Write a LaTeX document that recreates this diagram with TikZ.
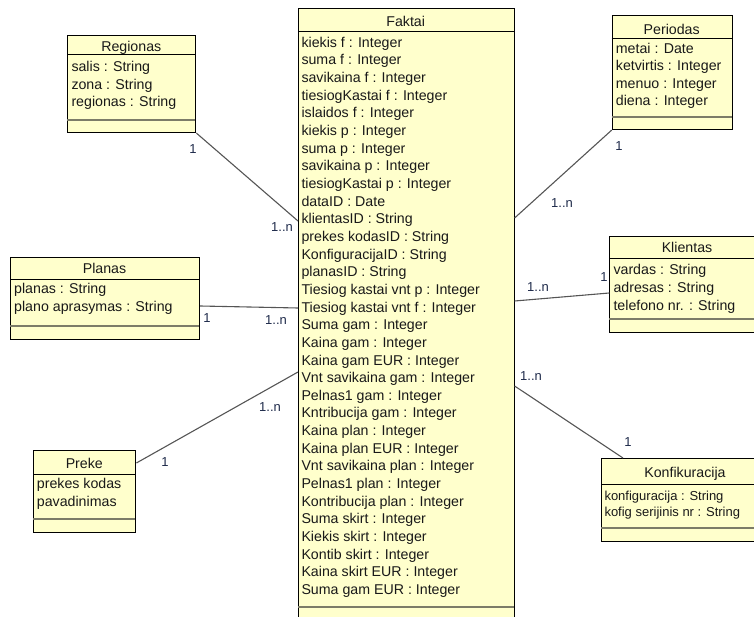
\documentclass[tikz,border=0pt]{standalone}
\usepackage{fontspec}
\setmainfont{Liberation Sans}
\definecolor{umlfill}{HTML}{FFFFCC}
\definecolor{sepcol}{HTML}{7C7C68}
\definecolor{linkcol}{HTML}{555555}
\definecolor{labcol}{HTML}{1E2A4A}
\tikzset{
  classbox/.style={draw=black, line width=1.1pt, fill=umlfill, rectangle, inner sep=0pt, anchor=north west},
  attr/.style={anchor=base west, inner sep=0pt, font=\fontsize{14.2}{16}\selectfont, text=black!90},
  attrsmall/.style={anchor=base west, inner sep=0pt, font=\fontsize{13}{15}\selectfont, text=black!90},
  ctitle/.style={anchor=base, inner sep=0pt, font=\fontsize{14.2}{16}\selectfont, text=black!90},
  hdr/.style={line width=1pt, draw=black},
  opsep/.style={line width=1.6pt, draw=sepcol},
  link/.style={draw=linkcol, line width=1.1pt},
  mult/.style={inner sep=0pt, font=\fontsize{13}{15}\selectfont, text=labcol},
}
\begin{document}
\begin{tikzpicture}[x=1pt,y=-1pt]
\useasboundingbox (0,0) rectangle (754,617);

% ---------- Faktai ----------
\node[classbox, minimum width=215.5pt, minimum height=614pt] (fak) at (298,8) {};
\draw[hdr] (298,32) -- (513.5,32);
\draw[opsep] (298,607) -- (513.5,607);
\node[ctitle] (faktitle) at (405.7,26.5) {Faktai};
\foreach \t [count=\i from 0] in {
  kiekis f : Integer, suma f : Integer, savikaina f : Integer,
  tiesiogKastai f : Integer, islaidos f : Integer, kiekis p : Integer,
  suma p : Integer, savikaina p : Integer, tiesiogKastai p : Integer,
  dataID : Date, klientasID : String, prekes kodasID : String,
  KonfiguracijaID : String, planasID : String,
  Tiesiog kastai vnt p : Integer, Tiesiog kastai vnt f : Integer,
  Suma gam : Integer, Kaina gam : Integer, Kaina gam EUR : Integer,
  Vnt savikaina gam : Integer, Pelnas1 gam : Integer,
  Kntribucija gam : Integer, Kaina plan : Integer,
  Kaina plan EUR : Integer, Vnt savikaina plan : Integer,
  Pelnas1 plan : Integer, Kontribucija plan : Integer,
  Suma skirt : Integer, Kiekis skirt : Integer, Kontib skirt : Integer,
  Kaina skirt EUR : Integer, Suma gam EUR : Integer}
  \node[attr] (fa\i) at (301.3,{47.3+17.65*\i}) {\t};

% ---------- Regionas ----------
\node[classbox, minimum width=128pt, minimum height=97pt] (reg) at (67.3,35) {};
\draw[hdr] (67.3,55) -- (195.3,55);
\draw[opsep] (67.3,120) -- (195.3,120);
\node[ctitle] (regtitle) at (131.3,51.5) {Regionas};
\foreach \t [count=\i from 0] in {salis : String, zona : String, regionas : String}
  \node[attr] (ra\i) at (71.3,{72+17.3*\i}) {\t};

% ---------- Planas ----------
\node[classbox, minimum width=189pt, minimum height=82pt] (pla) at (10,257) {};
\draw[hdr] (10,280) -- (199,280);
\draw[opsep] (10,326) -- (199,326);
\node[ctitle] (platitle) at (104.5,274) {Planas};
\foreach \t [count=\i from 0] in {planas : String, plano aprasymas : String}
  \node[attr] (pa\i) at (14,{294+18*\i}) {\t};

% ---------- Preke ----------
\node[classbox, minimum width=102pt, minimum height=82pt] (pre) at (33.3,450) {};
\draw[hdr] (33.3,474) -- (135.3,474);
\draw[opsep] (33.3,519) -- (135.3,519);
\node[ctitle] (pretitle) at (84.3,468) {Preke};
\foreach \t [count=\i from 0] in {prekes kodas, pavadinimas}
  \node[attr] (pka\i) at (36.7,{488.5+17.5*\i}) {\t};

% ---------- Periodas ----------
\node[classbox, minimum width=120pt, minimum height=114pt] (per) at (611.7,15) {};
\draw[hdr] (611.7,39) -- (731.7,39);
\draw[opsep] (611.7,117) -- (731.7,117);
\node[ctitle] (pertitle) at (671.7,35) {Periodas};
\foreach \t [count=\i from 0] in {metai : Date, ketvirtis : Integer, menuo : Integer, diena : Integer}
  \node[attr] (pea\i) at (615.7,{53.3+17.5*\i}) {\t};

% ---------- Klientas ----------
\node[classbox, minimum width=160pt, minimum height=96pt] (kli) at (609.3,236) {};
\draw[hdr] (609.3,259) -- (769.3,259);
\draw[opsep] (609.3,319) -- (769.3,319);
\node[ctitle] (klititle) at (687,253) {Klientas};
\foreach \t [count=\i from 0] in {vardas : String, adresas : String, telefono nr. : String}
  \node[attr] (ka\i) at (613.3,{275+17.5*\i}) {\t};

% ---------- Konfikuracija ----------
\node[classbox, minimum width=170pt, minimum height=83pt] (kon) at (601,458) {};
\draw[hdr] (601,484) -- (771,484);
\draw[opsep] (601,528) -- (771,528);
\node[ctitle] (kontitle) at (685,477) {Konfikuracija};
\foreach \t [count=\i from 0] in {konfiguracija : String, kofig serijinis nr : String}
  \node[attrsmall] (koa\i) at (604.3,{500+16.7*\i}) {\t};

% ---------- connectors ----------
\draw[link] (reg.south east) -- ([yshift=-213pt]fak.north west);
\draw[link] ([yshift=-49pt]pla.north east) -- ([yshift=-300pt]fak.north west);
\draw[link] ([yshift=-13pt]pre.north east) -- ([yshift=-364pt]fak.north west);
\draw[link] (per.south west) -- ([yshift=-210pt]fak.north east);
\draw[link] ([yshift=-57pt]kli.north west) -- ([yshift=-293pt]fak.north east);
\draw[link] ([xshift=22pt]kon.north west) -- ([yshift=-378pt]fak.north east);

% ---------- multiplicities ----------
\node[mult] (m1a) at (193,149) {1};
\node[mult] (m1b) at (282,227) {1..n};
\node[mult] (m2a) at (207,318) {1};
\node[mult] (m2b) at (276,320) {1..n};
\node[mult] (m3a) at (165,462) {1};
\node[mult] (m3b) at (270,407) {1..n};
\node[mult] (m4a) at (619,146) {1};
\node[mult] (m4b) at (562,203) {1..n};
\node[mult] (m5a) at (604,277) {1};
\node[mult] (m5b) at (538,287) {1..n};
\node[mult] (m6a) at (628,442) {1};
\node[mult] (m6b) at (531,376) {1..n};
\end{tikzpicture}
\end{document}
